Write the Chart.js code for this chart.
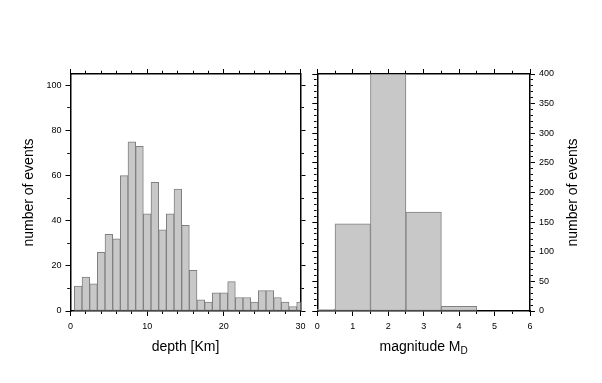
<!DOCTYPE html>
<html><head><meta charset="utf-8">
<script src="https://cdn.jsdelivr.net/npm/chart.js@4.4.0/dist/chart.umd.min.js"></script>
<style>
html,body{margin:0;padding:0;background:#fff;}
#wrap{position:relative;width:602px;height:383px;background:#fff;}
canvas{position:absolute;left:0;top:0;}
</style></head><body>
<div id="wrap"><canvas id="c1" width="602" height="383"></canvas><canvas id="c2" width="602" height="383"></canvas></div>
<script>
// ---- data ----
const depthBins = [1,2,3,4,5,6,7,8,9,10,11,12,13,14,15,16,17,18,19,20,21,22,23,24,25,26,27,28,29,30];
const depthCounts = [11,15,12,26,34,32,60,75,73,43,57,36,43,54,38,18,5,4,8,8,13,6,6,4,9,9,6,4,2,4];
const magBins = [0,1,2,3,4];
const magCounts = [3,147,400,167,8];
const depthXLabels = ['0','10','20','30'];
const depthYLabels = ['0','20','40','60','80','100'];
const magXLabels = ['0','1','2','3','4','5','6'];
const magYLabels = ['0','50','100','150','200','250','300','350','400'];

// ---- style ----
const FONT = '"Liberation Sans", Arial, Helvetica, sans-serif';
const BW = 1.5, TL = 5, MINOR = 2.5;
const W = 602, H = 383;

function tickDash(labels, outward) {
  return (ctx) => {
    if (labels.includes(String(ctx.tick.value))) return [];
    const len = TL - BW / 2;
    return outward ? [MINOR, 100] : [0, len - MINOR, MINOR, 100];
  };
}
function mkScale(pos, min, max, step, labels, showLabels, size) {
  const outward = (pos === 'bottom' || pos === 'right');
  return {
    type: 'linear', position: pos, min: min, max: max, offset: false, beginAtZero: false,
    grid: {drawOnChartArea: false, drawTicks: true, tickLength: TL, tickColor: '#000', tickWidth: 1,
           offset: false, tickBorderDash: tickDash(labels, outward)},
    border: {display: true, color: '#000', width: BW},
    ticks: {display: showLabels, stepSize: step, autoSkip: false, includeBounds: false,
            maxRotation: 0, minRotation: 0, padding: pos === 'bottom' ? 5 : 4, color: '#000',
            font: {family: FONT, size: 9},
            callback: v => labels.includes(String(v)) ? String(v) : ''},
    afterFit: s => { if (s.isHorizontal()) s.height = size; else s.width = size; }
  };
}

const titlePlugin = {
  id: 'axisTitles',
  afterDraw(chart, args, o) {
    const ctx = chart.ctx, a = chart.chartArea;
    ctx.save();
    ctx.fillStyle = '#000';
    ctx.textBaseline = 'alphabetic';
    // x title (with optional subscript)
    ctx.font = o.size + 'px ' + FONT;
    const w1 = ctx.measureText(o.x).width;
    let w2 = 0;
    if (o.sub) { ctx.font = o.subSize + 'px ' + FONT; w2 = ctx.measureText(o.sub).width; }
    const cx = (a.left + a.right) / 2;
    const x0 = cx - (w1 + w2) / 2;
    const by = a.bottom + o.xGap;
    ctx.textAlign = 'left';
    ctx.font = o.size + 'px ' + FONT;
    ctx.fillText(o.x, x0, by);
    if (o.sub) { ctx.font = o.subSize + 'px ' + FONT; ctx.fillText(o.sub, x0 + w1, by + o.subDrop); }
    // y title (reads bottom to top)
    ctx.font = o.size + 'px ' + FONT;
    ctx.textAlign = 'center';
    const cy = (a.top + a.bottom) / 2;
    const yx = o.ySide === 'left' ? a.left - o.yGap : a.right + o.yGap;
    ctx.translate(yx, cy);
    ctx.rotate(-Math.PI / 2);
    ctx.fillText(o.y, 0, 0);
    ctx.restore();
  }
};

const barStyle = {backgroundColor: '#c8c8c8', borderColor: '#808080', borderWidth: 1,
                  borderSkipped: false, barPercentage: 1, categoryPercentage: 1, clip: 0};

// left: depth histogram
new Chart(document.getElementById('c1'), {
  type: 'bar',
  data: {datasets: [Object.assign({data: depthBins.map((b, i) => ({x: b, y: depthCounts[i]}))}, barStyle)]},
  options: {
    responsive: false, animation: false, events: [],
    layout: {padding: 0},
    plugins: {legend: {display: false}, tooltip: {enabled: false},
      axisTitles: {x: 'depth [Km]', y: 'number of events', ySide: 'left', size: 14, xGap: 39.5, yGap: 38}},
    scales: {
      x: mkScale('bottom', 0, 30, 2, depthXLabels, true, H - 311),
      x2: mkScale('top', 0, 30, 2, depthXLabels, false, 74),
      y: mkScale('left', 0, 105, 10, depthYLabels, true, 70.5),
      y2: mkScale('right', 0, 105, 10, depthYLabels, false, W - 300.5)
    }
  },
  plugins: [titlePlugin]
});

// right: magnitude histogram
new Chart(document.getElementById('c2'), {
  type: 'bar',
  data: {datasets: [Object.assign({xAxisID: 'xb', yAxisID: 'y', data: magBins.map((b, i) => ({x: b, y: magCounts[i]}))}, barStyle)]},
  options: {
    responsive: false, animation: false, events: [],
    layout: {padding: 0},
    plugins: {legend: {display: false}, tooltip: {enabled: false},
      axisTitles: {x: 'magnitude M', sub: 'D', subSize: 10, subDrop: 3, y: 'number of events', ySide: 'right', size: 14, xGap: 39.5, yGap: 47}},
    scales: {
      x: mkScale('bottom', 0, 6, 0.5, magXLabels, true, H - 311),
      x2: mkScale('top', 0, 6, 0.5, magXLabels, false, 74),
      xb: {type: 'linear', display: false, min: 0, max: 6, offset: false, grid: {offset: false}, ticks: {stepSize: 1}},
      y: mkScale('right', 0, 400, 10, magYLabels, true, W - 530),
      y2: mkScale('left', 0, 400, 10, magYLabels, false, 317.3)
    }
  },
  plugins: [titlePlugin]
});
</script>
</body></html>
